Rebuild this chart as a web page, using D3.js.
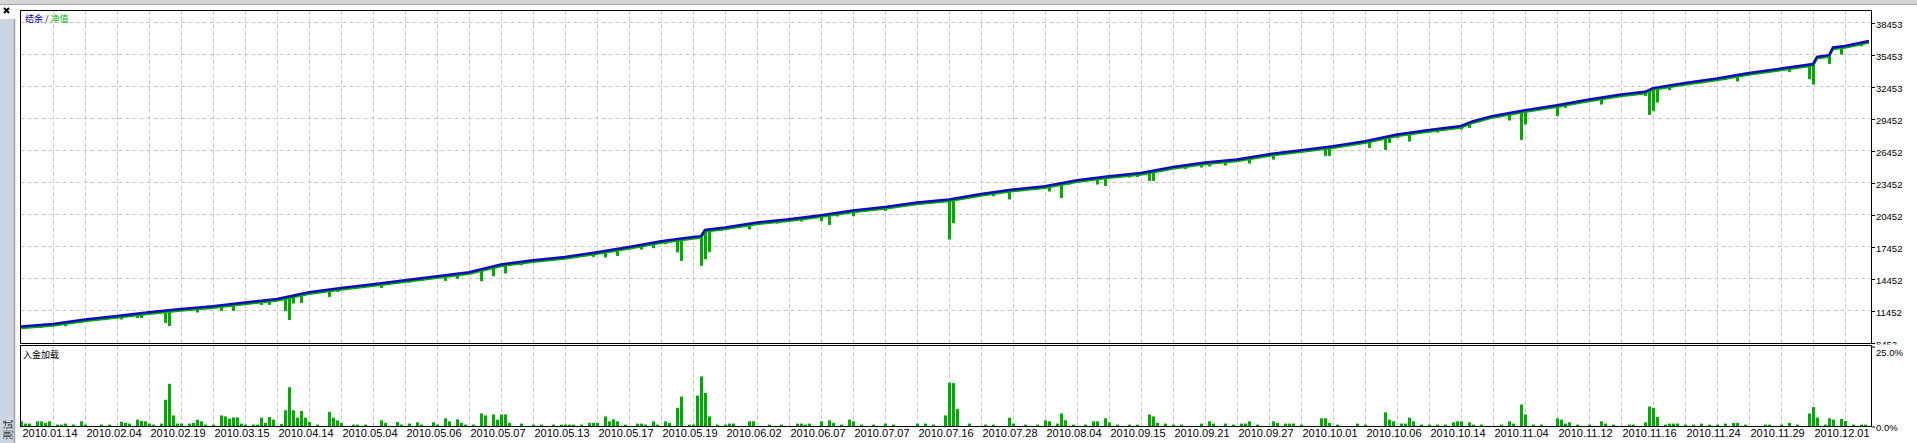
<!DOCTYPE html>
<html><head><meta charset="utf-8">
<script src="https://cdn.jsdelivr.net/npm/d3@7/dist/d3.min.js"></script>
<style>
html,body{margin:0;padding:0;background:#fff;overflow:hidden;}
svg{display:block;}
.lbl{font-family:"Liberation Sans Narrow","Liberation Sans",Arial,sans-serif;font-size:11px;fill:#000;}
.cjk{font-family:"Noto Sans CJK SC",sans-serif;font-size:9px;}
</style></head><body>
<svg id="chart" width="1917" height="443"></svg>
<script>
// ---------- data ----------
const totalTrades = 462;
const tradesPerGrid = 8;
const balanceTrade = [0,8,16,24,32,40,48,56,64,72,80,88,96,104,112,120,128,136,144,152,160,168,170,171,176,184,192,200,208,216,224,232,240,248,256,264,272,280,288,296,304,312,320,328,336,344,352,360,363,368,376,384,392,400,406,408,416,424,432,440,448,449,452,453,456,462];
const balanceValue = [9952,10196,10608,10946,11293,11602,11855,12202,12540,13168,13571,13918,14293,14668,15043,15765,16168,16477,16918,17415,17949,18352,18420,19000,19233,19702,20012,20386,20827,21165,21577,21858,22383,22796,23105,23668,24043,24352,24915,25327,25608,26105,26480,26855,27324,27952,28383,28758,29199,29696,30230,30699,31233,31702,31950,32300,32790,33202,33727,34140,34560,35230,35386,36108,36258,36727];
const equityDipTrade = [4,5,11,15,21,25,29,30,36,37,44,50,53,60,62,66,67,68,70,77,79,90,97,106,109,115,118,121,125,130,133,143,146,149,155,158,161,164,165,170,171,172,175,182,189,195,200,202,204,208,216,219,227,232,233,237,243,247,254,257,260,262,269,271,277,279,282,283,291,295,297,301,307,313,326,327,337,341,342,344,347,352,354,358,360,362,364,372,375,376,384,386,395,406,407,408,409,412,420,426,429,442,447,448,452,455,457,460];
const equityDipValue = [9821,9821,9980,10327,10546,10612,10758,10758,10300,10008,11265,11415,11415,11977,11977,11390,10571,12108,12165,12727,13196,13571,14077,14227,14415,14199,14668,14921,15699,16008,16140,16477,16421,16571,17171,17293,17668,16900,16102,15633,16258,16946,18915,19046,19608,19796,19824,19477,20264,20293,20790,21165,21483,18108,19633,22008,22168,21858,22796,22608,22008,23264,23264,23133,23921,23977,23602,23602,24727,24858,24952,25046,25233,25608,25946,25946,26696,26508,27165,27633,27296,28140,28140,28421,28421,28571,29077,29265,27446,28890,29696,30446,30765,31571,29790,30165,30952,32105,32733,33046,32921,33821,33133,32633,34571,35446,36140,36227];
const loadTrade = [0,1,2,4,5,6,7,9,10,11,13,15,16,20,22,25,26,27,29,30,31,32,33,35,36,37,38,39,40,42,43,44,45,46,48,50,51,52,53,54,55,56,58,59,60,61,62,63,65,66,67,68,69,70,71,72,74,77,78,79,80,83,84,86,90,91,94,95,97,99,100,103,104,106,107,109,110,111,113,115,116,118,119,120,121,122,125,128,130,133,135,136,137,138,140,142,143,144,146,147,148,149,151,154,155,156,158,159,161,162,164,165,167,168,169,170,171,172,174,176,177,178,182,183,187,190,194,195,196,197,200,202,203,205,207,208,210,213,216,218,224,226,228,231,232,233,234,237,241,243,247,248,251,254,256,257,259,260,261,263,266,268,269,271,272,274,277,279,282,283,284,286,288,290,295,297,298,301,303,305,306,307,309,313,314,316,317,318,320,325,326,327,329,334,336,341,342,343,345,346,347,348,350,352,354,356,358,359,360,362,363,365,370,372,373,375,376,378,380,384,385,386,387,389,392,395,396,398,402,403,406,407,408,409,411,412,413,414,416,418,420,422,424,426,428,429,431,436,437,440,442,444,447,448,449,451,452,453,455,456,458,460,461];
const loadValue = [1.46,0.75,0.75,1.46,1.46,0.96,1.46,0.44,0.44,0.75,0.44,1.46,0.44,0.44,0.44,1.35,0.96,0.75,2.0,1.56,1.46,0.75,0.44,0.75,8.2,13.2,3.3,0.75,0.75,0.75,0.96,1.98,1.46,0.44,0.44,3.3,3.0,2.3,2.7,2.7,0.75,0.44,0.44,0.44,2.6,1.0,2.8,2.0,0.6,4.9,12.1,4.9,2.6,4.7,2.6,1.25,0.44,4.4,2.6,1.77,0.96,0.44,0.44,0.44,1.77,0.96,1.25,0.44,0.75,1.15,0.44,1.15,0.44,2.4,1.46,2.08,0.96,0.44,0.44,3.95,3.3,3.6,1.98,3.6,3.6,0.96,0.75,0.44,0.44,0.44,0.44,0.44,0.44,0.44,0.44,0.96,0.96,0.96,3.0,1.46,2.08,1.46,0.44,0.75,0.75,0.44,1.46,0.44,1.46,0.96,5.7,9.2,0.44,0.44,9.5,15.5,10.3,3.0,0.44,0.44,0.75,0.75,1.46,1.46,0.44,0.44,0.75,0.75,0.44,0.75,1.46,1.77,0.96,0.44,1.98,1.46,0.44,0.44,0.75,0.44,0.75,0.75,0.44,3.3,13.5,13.4,5.3,0.75,0.44,0.44,2.6,0.75,0.44,0.44,1.77,1.46,0.75,3.9,1.77,0.44,0.44,1.46,1.46,2.4,1.15,0.44,0.44,0.44,3.6,3.0,0.96,0.75,0.44,0.44,0.75,1.46,0.75,0.75,0.44,0.75,0.75,1.46,0.44,1.46,0.96,0.75,0.75,0.75,0.44,2.4,2.4,0.96,0.44,0.75,0.44,4.26,1.98,1.46,0.75,0.75,2.6,1.46,0.44,0.44,0.44,0.44,1.15,1.46,1.46,1.15,0.44,0.44,0.44,1.46,0.75,6.7,3.6,0.44,0.44,2.4,1.98,0.75,1.15,0.44,0.44,1.46,0.75,0.44,0.44,0.44,1.15,6.1,5.7,2.8,0.44,0.75,0.75,0.75,0.44,0.44,0.75,0.44,0.44,0.75,0.96,0.96,0.44,0.44,0.44,0.44,0.96,0.44,3.9,5.9,2.6,0.44,2.4,1.98,2.2,1.56,0.44,0.44,0.44];
const yTickValues = [8452,11452,14452,17452,20452,23452,26452,29452,32453,35453,38453];
const yTickLabels = ["8452","11452","14452","17452","20452","23452","26452","29452","32453","35453","38453"];
const loadTickValues = [25,0];
const loadTickLabels = ["25.0%","0.0%"];
const dateLabels = ["2010.01.14","2010.02.04","2010.02.19","2010.03.15","2010.04.14","2010.05.04","2010.05.06","2010.05.07","2010.05.13","2010.05.17","2010.05.19","2010.06.02","2010.06.07","2010.07.07","2010.07.16","2010.07.28","2010.08.04","2010.09.15","2010.09.21","2010.09.27","2010.10.01","2010.10.06","2010.10.14","2010.11.04","2010.11.12","2010.11.16","2010.11.24","2010.11.29","2010.12.01"];

// ---------- layout ----------
const svg = d3.select("#chart");
const L = 20.5, R = 1871.5, T = 10.5, MB = 343.5, LT = 345.5, LB = 426.5;
const BLUE = "#0c0cbc", GREEN = "#00ab00";

const x = d3.scaleLinear().domain([0, totalTrades]).range([21, 1869]);
const y = d3.scaleLinear().domain([8452, 38453]).range([342.5, 22.5]);
const yl = d3.scaleLinear().domain([0, 25]).range([426, 346]);
const balAt = d3.scaleLinear().domain(balanceTrade).range(balanceValue);

// window chrome
svg.append("rect").attr("x",0).attr("y",0).attr("width",1917).attr("height",4).attr("fill","#d6d6d6");
svg.append("line").attr("x1",0).attr("x2",1917).attr("y1",4.5).attr("y2",4.5).attr("stroke","#a8a8a8");
svg.append("rect").attr("x",0).attr("y",19).attr("width",14).attr("height",424).attr("fill","#cad6e3");
svg.append("line").attr("x1",14.5).attr("x2",14.5).attr("y1",19).attr("y2",443).attr("stroke","#a4a4a4").attr("stroke-width",1.5);
svg.append("path").attr("d","M4,8L9,13M9,8L4,13").attr("stroke","#000").attr("stroke-width",2);
svg.append("text").attr("class","cjk").attr("transform","translate(12,440) rotate(-90)")
  .style("font-size","10px").attr("fill","#333").text("测试");

// clip
const defs = svg.append("defs");
defs.append("clipPath").attr("id","mainClip").append("rect").attr("x",21).attr("y",11).attr("width",1850).attr("height",332);
defs.append("clipPath").attr("id","lowClip").append("rect").attr("x",21).attr("y",346).attr("width",1850).attr("height",80);
defs.append("clipPath").attr("id","axClip").append("rect").attr("x",1872).attr("y",0).attr("width",45).attr("height",344.5);

// grid
const gridTicks = d3.range(tradesPerGrid, totalTrades - 2, tradesPerGrid);
const grid = svg.append("g").attr("stroke","#c8c8c8").attr("stroke-dasharray","4,3");
grid.selectAll("line.v").data(gridTicks).join("line").attr("class","v")
  .attr("x1",d=>Math.round(x(d))+0.5).attr("x2",d=>Math.round(x(d))+0.5).attr("y1",T).attr("y2",MB);
grid.selectAll("line.vl").data(gridTicks).join("line").attr("class","vl")
  .attr("x1",d=>Math.round(x(d))+0.5).attr("x2",d=>Math.round(x(d))+0.5).attr("y1",LT).attr("y2",LB);
grid.selectAll("line.h").data(yTickValues.slice(1)).join("line").attr("class","h")
  .attr("x1",L).attr("x2",R).attr("y1",d=>Math.round(y(d)-0.5)+0.5).attr("y2",d=>Math.round(y(d)-0.5)+0.5);

// main series
const main = svg.append("g").attr("clip-path","url(#mainClip)");
const pts = balanceTrade.map((t,i)=>[t,balanceValue[i]]);
const line = d3.line().x(d=>x(d[0])).y(d=>y(d[1]));
main.append("path").attr("d",line(pts)).attr("fill","none").attr("stroke",GREEN)
  .attr("stroke-width",2.5).attr("transform","translate(0,1.5)");
main.selectAll("rect.dip").data(equityDipTrade.map((t,i)=>[t,equityDipValue[i]])).join("rect")
  .attr("class","dip").attr("fill",GREEN)
  .attr("x",d=>x(d[0])-1).attr("width",3)
  .attr("y",d=>y(balAt(d[0])))
  .attr("height",d=>Math.max(0,y(d[1])-y(balAt(d[0])))) ;
main.append("path").attr("d",line(pts)).attr("fill","none").attr("stroke",BLUE)
  .attr("stroke-width",2.5).attr("stroke-linejoin","miter");

// load bars
const low = svg.append("g").attr("clip-path","url(#lowClip)");
low.selectAll("rect").data(loadTrade.map((t,i)=>[t,loadValue[i]])).join("rect")
  .attr("fill",GREEN).attr("x",d=>x(d[0])-1).attr("width",3)
  .attr("y",d=>yl(d[1])).attr("height",d=>yl(0)-yl(d[1]));

// frames
svg.append("rect").attr("x",L).attr("y",T).attr("width",R-L).attr("height",MB-T).attr("fill","none").attr("stroke","#000");
svg.append("rect").attr("x",L).attr("y",LT).attr("width",R-L).attr("height",LB-LT).attr("fill","none").attr("stroke","#000");

// right axis (main)
const yAxis = d3.axisRight(y).tickValues(yTickValues).tickFormat((d,i)=>yTickLabels[i]).tickSize(3).tickPadding(2);
const yaWrap = svg.append("g").attr("clip-path","url(#axClip)");
const ya = yaWrap.append("g").attr("transform","translate(1872,0.5)").call(yAxis);
ya.select(".domain").remove();
ya.selectAll("text").attr("class","lbl").style("font-size","9.5px").style("font-family","'Liberation Sans',Arial,sans-serif")
  .attr("dy","0.38em").attr("x",4).attr("y",1);
ya.selectAll("line").attr("stroke","#000").attr("stroke-width",1);

// right axis (load)
const ylAxis = d3.axisRight(yl).tickValues(loadTickValues).tickFormat((d,i)=>loadTickLabels[i]).tickSize(3).tickPadding(2);
const yla = svg.append("g").attr("transform","translate(1872,0.5)").call(ylAxis);
yla.select(".domain").remove();
yla.selectAll("text").attr("class","lbl").style("font-size","9.5px").style("font-family","'Liberation Sans',Arial,sans-serif").attr("x",4)
  .attr("dy",(d)=> d===25 ? "0.95em" : "0.38em").attr("y",0);

// bottom axis
const xTicks = d3.range(0, totalTrades, tradesPerGrid*2);
svg.append("g").selectAll("text").data(xTicks).join("text").attr("class","lbl")
  .attr("x",d=>Math.round(x(d))+1.5).attr("y",437).text((d,i)=>dateLabels[i]);

// legends
const lg = svg.append("text").attr("class","cjk").attr("x",25).attr("y",22);
lg.append("tspan").attr("fill","#0000c8").text("结余");
lg.append("tspan").attr("fill","#00008b").text(" / ");
lg.append("tspan").attr("fill","#00b400").text("净值");
svg.append("text").attr("class","cjk").attr("x",23).attr("y",358).attr("fill","#000").text("入金加载");
</script>
</body></html>
